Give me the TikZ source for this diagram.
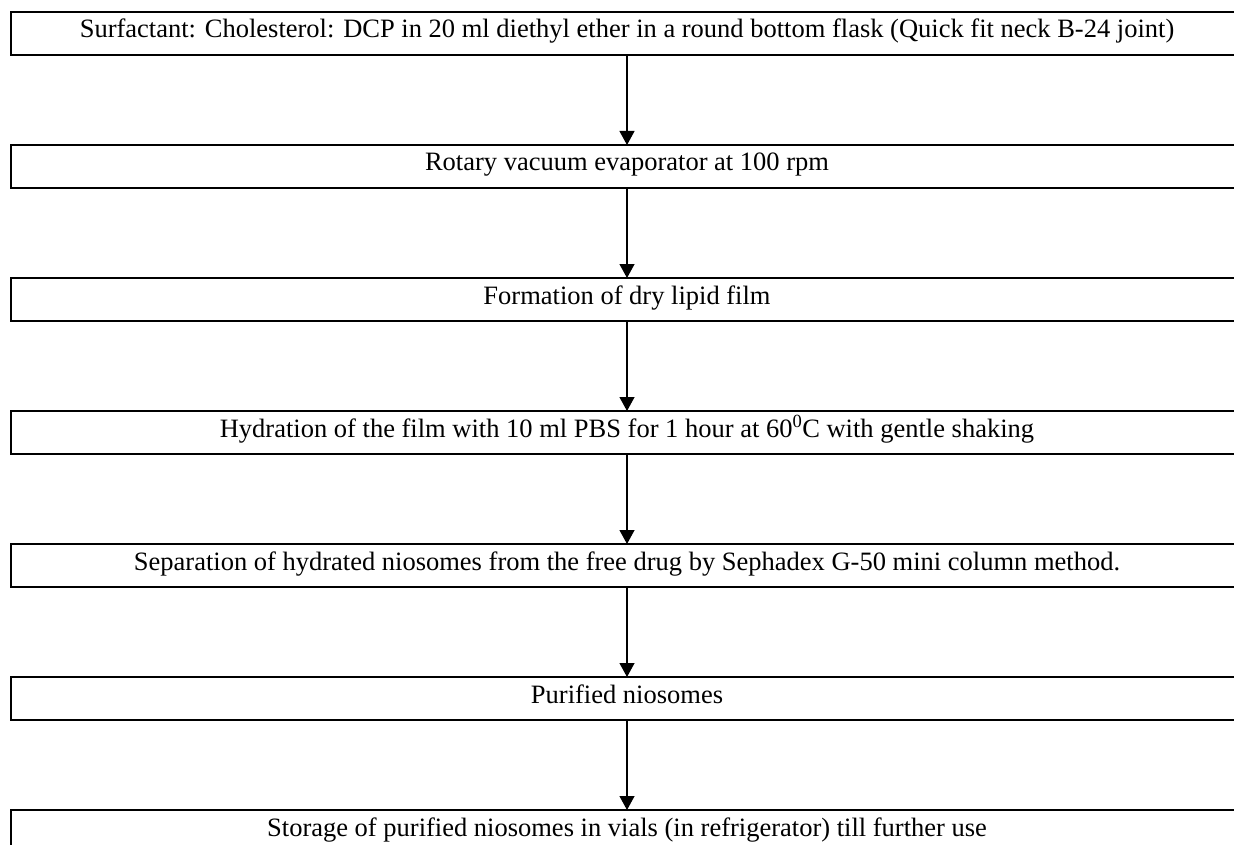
\documentclass[tikz,border=0pt]{standalone}
\usepackage{fontspec}
\setmainfont{Liberation Serif}
\usetikzlibrary{positioning,arrows.meta}

\begin{document}
\begin{tikzpicture}
    [x=1pt, y=1pt, font=\fontsize{26.5}{30}\selectfont,
    % one box per step, wider than the page on the right
    stepbox/.style={draw=black, line width=1.8pt, rectangle, inner sep=0pt,
        outer sep=0pt, minimum width=1232pt, text height=26pt, text depth=17pt},
    flow/.style={draw=black, line width=1.2pt,
        -{Triangle[width=15pt, length=14pt]}},
    node distance=90pt]
    \useasboundingbox (0,0) rectangle (1234,-845);
    \node [stepbox] (mix) at (627,-33.5)
        {Surfactant: Cholesterol: DCP in 20 ml diethyl ether in a round bottom flask (Quick fit neck B-24 joint)};
    \node [stepbox, below=of mix] (rotary)
        {Rotary vacuum evaporator at 100 rpm};
    \node [stepbox, below=of rotary] (film)
        {Formation of dry lipid film};
    \node [stepbox, below=of film] (hydration)
        {Hydration of the film with 10 ml PBS for 1 hour at 60\textsuperscript{0}C with gentle shaking};
    \node [stepbox, below=of hydration] (separation)
        {Separation of hydrated niosomes from the free drug by Sephadex G-50 mini column method.};
    \node [stepbox, below=of separation] (purified)
        {Purified niosomes};
    \node [stepbox, below=of purified] (storage)
        {Storage of purified niosomes in vials (in refrigerator) till further use};
    % arrows between the steps
    \draw [flow] (mix) -- (rotary);
    \draw [flow] (rotary) -- (film);
    \draw [flow] (film) -- (hydration);
    \draw [flow] (hydration) -- (separation);
    \draw [flow] (separation) -- (purified);
    \draw [flow] (purified) -- (storage);
\end{tikzpicture}
\end{document}
